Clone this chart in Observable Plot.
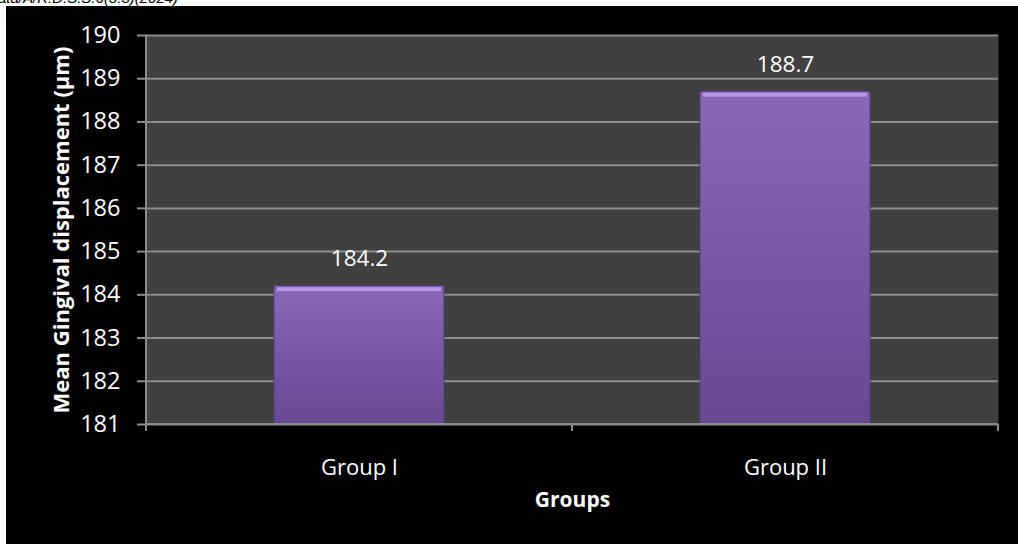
<!DOCTYPE html>
<html><head><meta charset="utf-8">
<script src="https://cdn.jsdelivr.net/npm/d3@7"></script>
<script src="https://cdn.jsdelivr.net/npm/@observablehq/plot@0.6"></script>
<style>
body{margin:0;background:#fff;width:1018px;height:544px;overflow:hidden;position:relative;font-family:"Open Sans",sans-serif}
#top{position:absolute;left:0;top:0;width:1018px;height:6px;overflow:hidden}
#top span{position:absolute;left:-2px;top:-11px;font-style:italic;font-size:15px;color:#000;white-space:nowrap;font-family:"Liberation Sans",sans-serif}
#chart{position:absolute;left:6px;top:6px;width:1012px;height:538px;background:#000}
</style></head><body>
<div id="top"><span>ata/A/R.D.S.S.6(3.3)(2024)</span></div>
<svg width="0" height="0" style="position:absolute"><defs>
<linearGradient id="barGrad" x1="0" y1="0" x2="0" y2="1">
<stop offset="0" stop-color="#8b67ba"/><stop offset="1" stop-color="#684892"/></linearGradient></defs></svg>
<div id="chart"></div>
<script>
const groups = ["Group I", "Group II"];
const values = [184.2, 188.7];
const yTicks = [181, 182, 183, 184, 185, 186, 187, 188, 189, 190];
const yDomain = [181, 190];
const xTitle = "Groups";
const yTitle = "Mean Gingival displacement (µm)";

const data = groups.map((g, i) => ({group: g, value: values[i]}));
const gridColor = "#8c8c8c";

const plot = Plot.plot({
  width: 1012, height: 538,
  marginLeft: 140, marginRight: 20, marginTop: 29, marginBottom: 120,
  style: {background: "#000", color: "#fff", fontFamily: "'Open Sans',sans-serif", fontSize: "22px"},
  x: {domain: groups, paddingInner: 0.6, paddingOuter: 0.3, label: null},
  y: {domain: yDomain, label: null},
  marks: [
    Plot.frame({fill: "#404040", stroke: null}),
    Plot.gridY(yTicks, {stroke: gridColor, strokeOpacity: 1, strokeWidth: 2}),
    Plot.barY(data, {x: "group", y1: yDomain[0], y2: "value", fill: "url(#barGrad)", stroke: "#553a7c", strokeWidth: 1}),
    Plot.tickY(data, {x: "group", y: "value", stroke: "#b597e4", strokeWidth: 4, dy: 3, inset: 3}),
    Plot.axisY(yTicks, {tickSize: 9, tickPadding: 17, stroke: gridColor, strokeWidth: 2, strokeOpacity: 1, fontSize: 23.5, label: null}),
    Plot.axisX({tickSize: 0, tickPadding: 35, fontSize: 22, label: null}),
    Plot.text(data, {x: "group", y: "value", text: d => d.value.toFixed(1), dy: -27, fill: "#fff", fontSize: 22.5}),
    Plot.text([xTitle], {frameAnchor: "bottom", dy: 82, fill: "#fff", fontWeight: "bold", fontSize: 21}),
    Plot.text([yTitle], {frameAnchor: "left", textAnchor: "middle", rotate: -90, dx: -85, fill: "#fff", fontWeight: "bold", fontSize: 22})
  ]
});

// axis lines and category-boundary ticks, positioned through the plot's own scales
const xs = plot.scale("x"), ys = plot.scale("y");
const bw = xs.bandwidth;
const edges = [xs.range[0]];
for (let i = 0; i < groups.length - 1; i++) edges.push((xs.apply(groups[i]) + bw + xs.apply(groups[i + 1])) / 2);
edges.push(xs.range[1]);
const yb = ys.apply(yDomain[0]), yt = ys.apply(yDomain[1]);
const g = d3.select(plot).append("g").attr("stroke", gridColor).attr("stroke-width", 2);
g.append("line").attr("x1", edges[0]).attr("x2", edges[0]).attr("y1", yt).attr("y2", yb + 7);
g.append("line").attr("x1", edges[0]).attr("x2", edges[edges.length - 1]).attr("y1", yb).attr("y2", yb);
edges.slice(1).forEach(e => g.append("line").attr("x1", e).attr("x2", e).attr("y1", yb).attr("y2", yb + 7));

document.getElementById("chart").appendChild(plot);
</script>
</body></html>
